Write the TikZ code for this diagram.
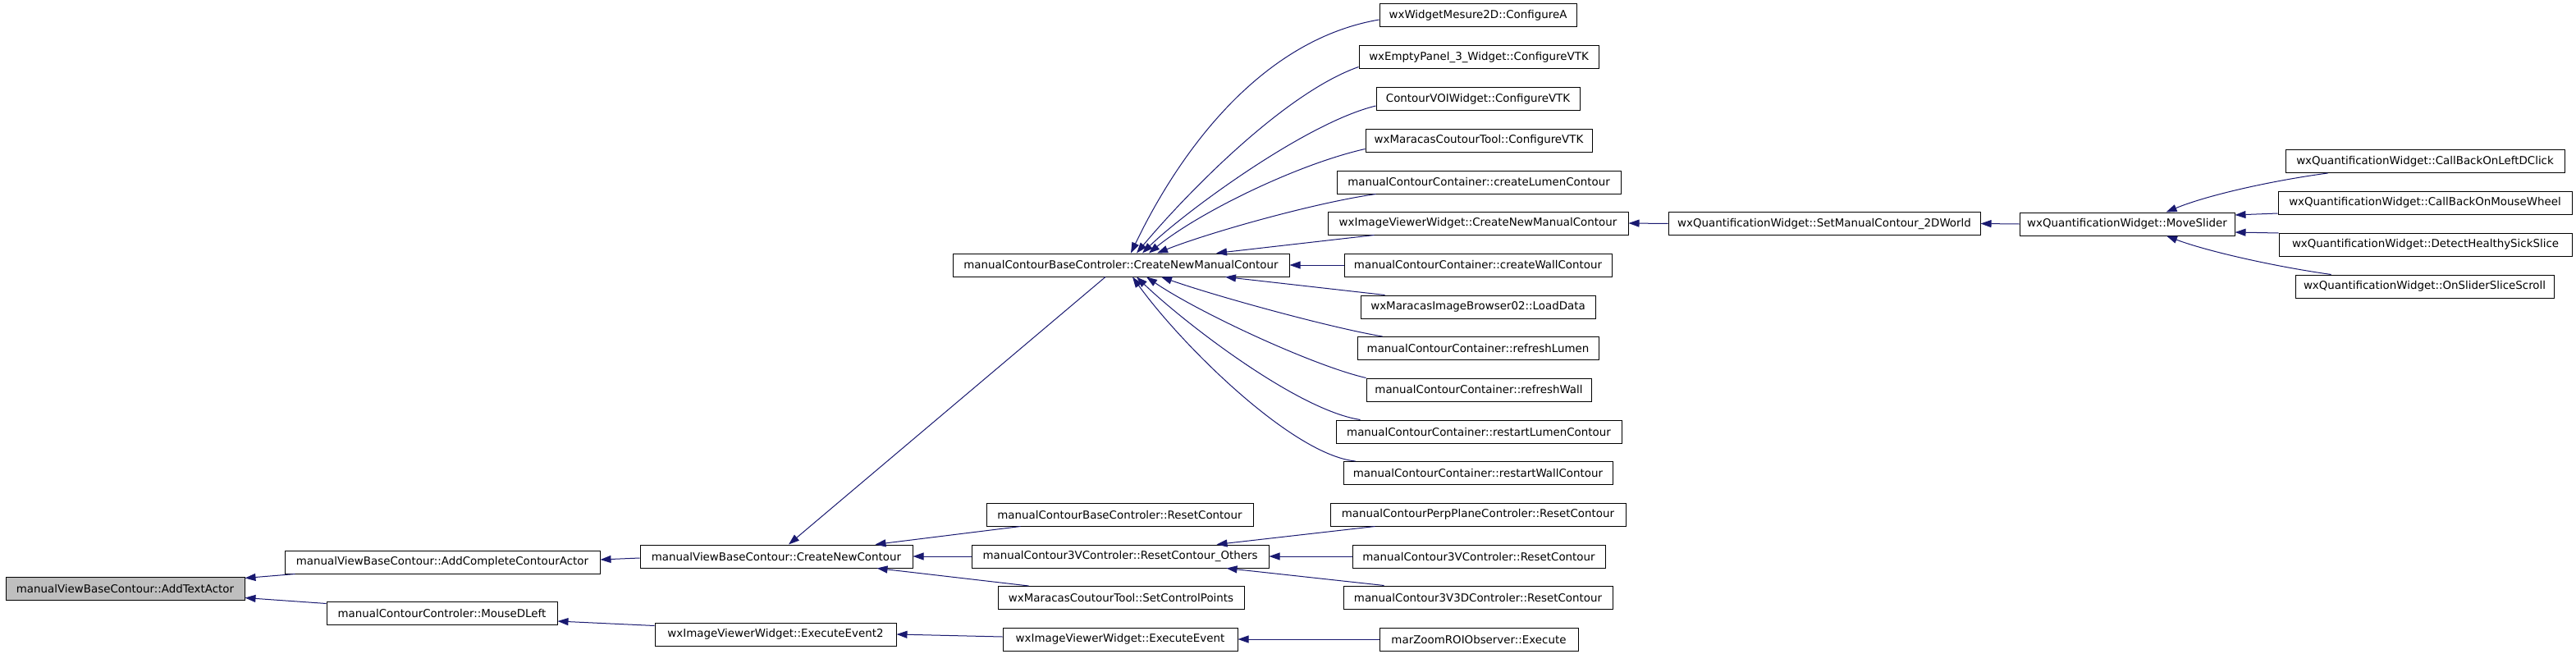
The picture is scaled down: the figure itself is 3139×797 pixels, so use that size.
\documentclass[tikz,border=0pt]{standalone}
\usepackage{fontspec}
\setmainfont{DejaVu Sans}
\usetikzlibrary{arrows.meta,calc}
\definecolor{edgeblue}{HTML}{191970}
\definecolor{hlgray}{HTML}{BFBFBF}
\begin{document}
\begin{tikzpicture}[x=1pt,y=-1pt,
  fn/.style={draw=black,line width=1pt,fill=white,minimum height=28pt,inner sep=0pt,
    font=\fontsize{13.4}{16}\selectfont},
  cl/.style={draw=edgeblue,line width=1pt,-{Triangle[length=13pt,width=9pt]}}]
\useasboundingbox (0,0) rectangle (3139,797);
% nodes
\node[fn,minimum width=291pt,fill=hlgray] (A) at (152.5,717) {manualViewBaseContour::AddTextActor};
\node[fn,minimum width=384pt] (B) at (539,685) {manualViewBaseContour::AddCompleteContourActor};
\node[fn,minimum width=281pt] (C) at (538.5,747) {manualContourControler::MouseDLeft};
\node[fn,minimum width=332pt] (D) at (946,678) {manualViewBaseContour::CreateNewContour};
\node[fn,minimum width=294pt] (E) at (945,773) {wxImageViewerWidget::ExecuteEvent2};
\node[fn,minimum width=410pt] (F) at (1366,323) {manualContourBaseControler::CreateNewManualContour};
\node[fn,minimum width=325pt] (G) at (1364.5,627) {manualContourBaseControler::ResetContour};
\node[fn,minimum width=362pt] (H) at (1365,678) {manualContour3VControler::ResetContour\_Others};
\node[fn,minimum width=300pt] (I) at (1366,728.5) {wxMaracasCoutourTool::SetControlPoints};
\node[fn,minimum width=286pt] (J) at (1365,779) {wxImageViewerWidget::ExecuteEvent};
\node[fn,minimum width=240pt] (K) at (1801,19) {wxWidgetMesure2D::ConfigureA};
\node[fn,minimum width=292pt] (L) at (1802,70) {wxEmptyPanel\_3\_Widget::ConfigureVTK};
\node[fn,minimum width=248pt] (M) at (1801,121) {ContourVOIWidget::ConfigureVTK};
\node[fn,minimum width=276pt] (N) at (1802,171) {wxMaracasCoutourTool::ConfigureVTK};
\node[fn,minimum width=346pt] (O) at (1802,222) {manualContourContainer::createLumenContour};
\node[fn,minimum width=366pt] (P) at (1801,272) {wxImageViewerWidget::CreateNewManualContour};
\node[fn,minimum width=326pt] (Q) at (1801,323) {manualContourContainer::createWallContour};
\node[fn,minimum width=286pt] (R) at (1801,374) {wxMaracasImageBrowser02::LoadData};
\node[fn,minimum width=294pt] (S) at (1801,424.5) {manualContourContainer::refreshLumen};
\node[fn,minimum width=274pt] (T) at (1802,475) {manualContourContainer::refreshWall};
\node[fn,minimum width=348pt] (U) at (1802,526) {manualContourContainer::restartLumenContour};
\node[fn,minimum width=328pt] (V) at (1801,576.5) {manualContourContainer::restartWallContour};
\node[fn,minimum width=360pt] (W) at (1801,627) {manualContourPerpPlaneControler::ResetContour};
\node[fn,minimum width=308pt] (X) at (1802,678) {manualContour3VControler::ResetContour};
\node[fn,minimum width=328pt] (Y) at (1801,728) {manualContour3V3DControler::ResetContour};
\node[fn,minimum width=242pt] (Z) at (1802,779) {marZoomROIObserver::Execute};
\node[fn,minimum width=380pt] (AA) at (2223,272.5) {wxQuantificationWidget::SetManualContour\_2DWorld};
\node[fn,minimum width=262pt] (AB) at (2592,273) {wxQuantificationWidget::MoveSlider};
\node[fn,minimum width=340pt] (AC) at (2955,196.5) {wxQuantificationWidget::CallBackOnLeftDClick};
\node[fn,minimum width=358pt] (AD) at (2955,247) {wxQuantificationWidget::CallBackOnMouseWheel};
\node[fn,minimum width=357pt] (AE) at (2955.5,298) {wxQuantificationWidget::DetectHealthySickSlice};
\node[fn,minimum width=315pt] (AF) at (2954.5,349) {wxQuantificationWidget::OnSliderSliceScroll};
% edges (caller -> callee, arrow at callee)
\draw[cl] ($(B.south west)+(13,0)$) -- ($(A.north east)+(0,2)$);
\draw[cl] ($(C.north west)+(0,3)$) -- ($(A.south east)+(0,-3)$);
\draw[cl] ($(D.west)+(0,2)$) -- ($(B.east)+(0,-3)$);
\draw[cl] ($(E.north west)+(0,4)$) -- ($(C.east)+(0,10)$);
\draw[cl] ($(F.south)+(-19,0)$) -- ($(D.north)+(15,0)$);
\draw[cl] ($(G.south west)+(42,0)$) -- ($(D.north east)+(-46,0)$);
\draw[cl] (H.west) -- (D.east);
\draw[cl] ($(I.north west)+(38,0)$) -- ($(D.south east)+(-44,0)$);
\draw[cl] ($(J.west)+(0,-3)$) -- (E.east);
\draw[cl] (Z.west) -- (J.east);
\draw[cl] ($(W.south west)+(55,0)$) -- ($(H.north east)+(-64,0)$);
\draw[cl] (X.west) -- (H.east);
\draw[cl] ($(Y.north west)+(50,0)$) -- ($(H.south east)+(-52,0)$);
\draw[cl] (AA.west) -- (P.east);
\draw[cl] (AB.west) -- (AA.east);
% fan into CreateNewManualContour
\draw[cl] ($(K.west)+(0,5)$) .. controls +(-141,24) and +(62,-129) .. ($(F.north)+(12,0)$);
\draw[cl] ($(L.south west)+(0,-3)$) .. controls +(-96,34) and +(50,-60) .. ($(F.north)+(19,0)$);
\draw[cl] ($(M.west)+(0,8)$) .. controls +(-87,21) and +(48,-47) .. ($(F.north)+(26,0)$);
\draw[cl] ($(N.south west)+(0,-4)$) .. controls +(-84,19) and +(60,-49) .. ($(F.north)+(34,0)$);
\draw[cl] ($(O.south west)+(48,0)$) .. controls +(-77,11) and +(60,-24) .. ($(F.north)+(44,0)$);
\draw[cl] ($(P.south west)+(57,0)$) -- ($(F.north)+(116,0)$);
\draw[cl] (Q.west) -- (F.east);
\draw[cl] ($(R.north west)+(30,0)$) -- ($(F.south)+(127,0)$);
\draw[cl] ($(S.north west)+(31,0)$) .. controls +(-65,-11) and +(65,23) .. ($(F.south)+(49,0)$);
\draw[cl] (T.north west) .. controls +(-65,-15) and +(63,43) .. ($(F.south)+(31,0)$);
\draw[cl] ($(U.north west)+(30,0)$) .. controls +(-78,-12) and +(55,53) .. ($(F.south)+(19,0)$);
\draw[cl] ($(V.north west)+(15,0)$) .. controls +(-77,-8) and +(60,83) .. ($(F.south)+(14,0)$);
% fan into MoveSlider
\draw[cl] ($(AC.south west)+(52,0)$) .. controls +(-67,9) and +(51,-21) .. ($(AB.north)+(47.5,0)$);
\draw[cl] ($(AD.west)+(0,13)$) -- ($(AB.east)+(0,-11)$);
\draw[cl] ($(AE.west)+(0,-14)$) -- ($(AB.east)+(0,10)$);
\draw[cl] ($(AF.north west)+(44,0)$) .. controls +(-71,-10) and +(47,18) .. ($(AB.south)+(48,0)$);
\end{tikzpicture}
\end{document}
